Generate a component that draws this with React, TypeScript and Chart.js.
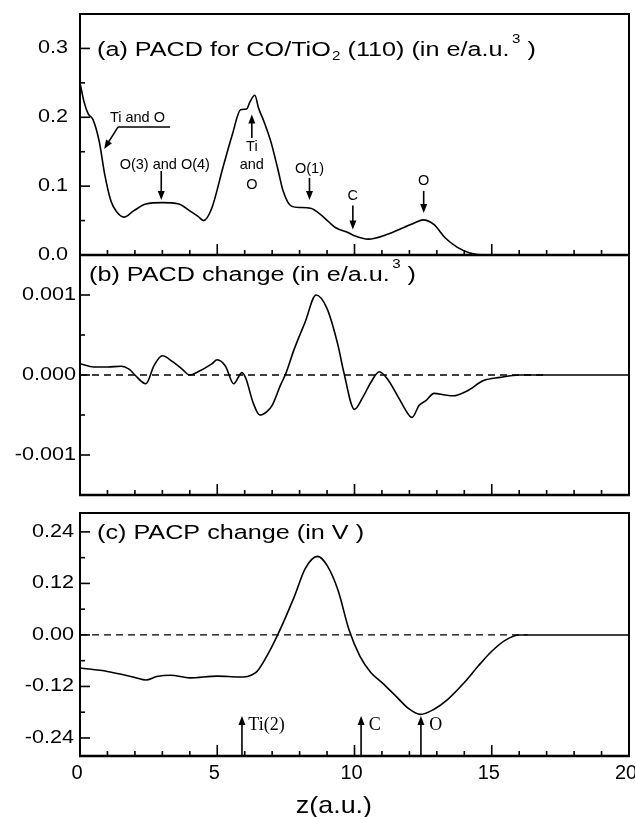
import React, { useEffect, useRef } from 'react';
import { Chart, registerables } from 'chart.js';

Chart.register(...registerables);

const SANS = '"Liberation Sans", Arial, Helvetica, sans-serif';
const SERIF = '"Liberation Serif", "Times New Roman", serif';

// ---------- shared x axis ----------
const X_TICKS = [0, 5, 10, 15, 20];
const X_LABELS = ['0', '5', '10', '15', '20'];
const X_MINOR = [1, 2, 3, 4, 6, 7, 8, 9, 11, 12, 13, 14, 16, 17, 18, 19];
const X_TITLE = 'z(a.u.)';

// ---------- panel (a): PACD ----------
const Z_A = [0, 0.15, 0.3, 0.47, 0.7, 0.9, 1.13, 1.35, 1.6, 1.95, 2.4, 3.0, 3.6, 4.0, 4.3, 4.5, 4.8, 5.2, 5.55, 5.85, 6.07, 6.2, 6.37, 6.5, 6.7, 6.95, 7.2, 7.4, 7.7, 8.0, 8.4, 8.9, 9.3, 9.8, 10.0, 10.5, 11.2, 11.8, 12.2, 12.5, 12.9, 13.3, 13.75, 14.2, 14.8, 16, 20];
const V_A = [0.25, 0.222, 0.205, 0.197, 0.165, 0.117, 0.078, 0.062, 0.055, 0.064, 0.074, 0.076, 0.074, 0.064, 0.056, 0.05, 0.068, 0.126, 0.175, 0.211, 0.212, 0.223, 0.232, 0.214, 0.194, 0.165, 0.126, 0.093, 0.071, 0.069, 0.068, 0.054, 0.04, 0.032, 0.028, 0.023, 0.03, 0.04, 0.047, 0.051, 0.044, 0.025, 0.011, 0.003, 0.0, 0.0, 0.0];
const Y_TICKS_A = [0, 0.1, 0.2, 0.3];
const Y_LABELS_A = ['0.0', '0.1', '0.2', '0.3'];
const Y_MINOR_A = [0.05, 0.15, 0.25];
const TITLE_A: [string, string][] = [['(a) PACD for CO/TiO', ''], ['2', 'sub'], [' (110) (in e/a.u.', ''], ['3', 'sup'], [' )', '']];
const LABELS_A = [
  { t: 'Ti and O', z: 1.09, v: 0.193, align: 'left' },
  { t: 'O(3) and O(4)', z: 3.09, v: 0.125, align: 'center' },
  { t: 'Ti', z: 6.26, v: 0.151, align: 'center' },
  { t: 'and', z: 6.26, v: 0.125, align: 'center' },
  { t: 'O', z: 6.26, v: 0.096, align: 'center' },
  { t: 'O(1)', z: 8.36, v: 0.119, align: 'center' },
  { t: 'C', z: 9.94, v: 0.08, align: 'center' },
  { t: 'O', z: 12.52, v: 0.101, align: 'center' },
];
const ARROWS_A = [
  { z1: 1.39, v1: 0.186, z2: 0.88, v2: 0.154 },
  { z1: 2.96, v1: 0.122, z2: 2.96, v2: 0.08 },
  { z1: 6.26, v1: 0.17, z2: 6.26, v2: 0.204 },
  { z1: 8.36, v1: 0.112, z2: 8.36, v2: 0.08 },
  { z1: 9.94, v1: 0.072, z2: 9.94, v2: 0.037 },
  { z1: 12.52, v1: 0.093, z2: 12.52, v2: 0.061 },
];
const LINES_A = [{ z1: 1.39, v1: 0.186, z2: 3.28, v2: 0.186 }];

// ---------- panel (b): PACD change ----------
const Z_B = [0, 0.5, 1.0, 1.5, 1.8, 2.0, 2.4, 2.7, 3.0, 3.4, 3.7, 4.0, 4.3, 4.8, 5.0, 5.3, 5.6, 5.9, 6.05, 6.3, 6.55, 6.8, 7.0, 7.3, 7.5, 7.8, 8.2, 8.6, 9.0, 9.4, 9.6, 10.0, 10.3, 10.6, 10.9, 11.2, 11.6, 12.0, 12.1, 12.35, 12.6, 12.9, 13.3, 13.6, 14.1, 14.7, 15.3, 16.0, 20];
const V_B = [0.14e-3, 0.1e-3, 0.1e-3, 0.11e-3, 0.07e-3, 0.0, -0.11e-3, 0.12e-3, 0.24e-3, 0.16e-3, 0.08e-3, 0.0, 0.04e-3, 0.14e-3, 0.19e-3, 0.11e-3, -0.11e-3, 0.03e-3, -0.05e-3, -0.34e-3, -0.5e-3, -0.46e-3, -0.38e-3, -0.13e-3, 0.02e-3, 0.32e-3, 0.66e-3, 1.0e-3, 0.83e-3, 0.37e-3, 0.05e-3, -0.43e-3, -0.28e-3, -0.09e-3, 0.04e-3, -0.05e-3, -0.28e-3, -0.51e-3, -0.53e-3, -0.38e-3, -0.32e-3, -0.23e-3, -0.25e-3, -0.26e-3, -0.2e-3, -0.07e-3, -0.03e-3, 0.0, 0.0];
const ZERO_B = [0, 17];
const Y_TICKS_B = [-0.001, 0, 0.001];
const Y_LABELS_B = ['-0.001', '0.000', '0.001'];
const Y_MINOR_B = [-0.0005, 0.0005];
const TITLE_B: [string, string][] = [['(b) PACD change (in e/a.u.', ''], ['3', 'sup'], [' )', '']];

// ---------- panel (c): PACP change ----------
const Z_C = [0, 1.0, 2.0, 2.4, 2.8, 3.3, 4.0, 5.0, 5.8, 6.4, 6.8, 7.2, 7.8, 8.2, 8.65, 9.0, 9.4, 9.8, 10.2, 10.6, 11.0, 11.5, 12.0, 12.4, 12.9, 13.4, 14.0, 14.5, 15.0, 15.5, 16.0, 16.5, 20];
const V_C = [-0.077, -0.085, -0.099, -0.105, -0.097, -0.094, -0.1, -0.096, -0.098, -0.088, -0.05, 0.0, 0.088, 0.154, 0.183, 0.162, 0.104, 0.012, -0.05, -0.088, -0.111, -0.142, -0.173, -0.185, -0.173, -0.15, -0.111, -0.073, -0.038, -0.012, 0.0, 0.0, 0.0];
const ZERO_C = [0, 16.3];
const Y_TICKS_C = [-0.24, -0.12, 0, 0.12, 0.24];
const Y_LABELS_C = ['-0.24', '-0.12', '0.00', '0.12', '0.24'];
const Y_MINOR_C = [-0.18, -0.06, 0.06, 0.18];
const TITLE_C: [string, string][] = [['(c) PACP change (in V )', '']];
const LABELS_C = [
  { t: 'Ti(2)', z: 6.13, v: -0.221, align: 'left' },
  { t: 'C', z: 10.52, v: -0.221, align: 'left' },
  { t: 'O', z: 12.72, v: -0.221, align: 'left' },
];
const ARROW_Z_C = [5.9, 10.24, 12.42];
const ARROW_TIP_C = -0.189;

type Seg = { z1: number; v1: number; z2: number; v2: number };
type Lab = { t: string; z: number; v: number; align: string };

interface Spec {
  top: number;
  bottom: number;
  yMin: number;
  yMax: number;
  yTicks: number[];
  yLabels: string[];
  yMinor: number[];
  labelPad: number;
  z: number[];
  v: number[];
  zero?: number[];
  showX: boolean;
  title: [string, string][];
  titleDx: number;
  titleV: number;
  labels: Lab[];
  labelFont: string;
  arrows: Seg[];
  lines: Seg[];
}

const TITLE_SIZE = 20;
const TITLE_STRETCH = 1.26;
const YLAB_SIZE = 18;
const YLAB_STRETCH = 1.2;

function drawArrow(ctx: CanvasRenderingContext2D, x1: number, y1: number, x2: number, y2: number, head = 9, half = 3.5, lw = 1.6) {
  const ang = Math.atan2(y2 - y1, x2 - x1);
  const c = Math.cos(ang), s = Math.sin(ang);
  ctx.lineWidth = lw;
  ctx.beginPath();
  ctx.moveTo(x1, y1);
  ctx.lineTo(x2 - c * head * 0.7, y2 - s * head * 0.7);
  ctx.stroke();
  ctx.beginPath();
  ctx.moveTo(x2, y2);
  ctx.lineTo(x2 - head * c + half * s, y2 - head * s - half * c);
  ctx.lineTo(x2 - head * c - half * s, y2 - head * s + half * c);
  ctx.closePath();
  ctx.fill();
}

function drawRich(ctx: CanvasRenderingContext2D, x: number, yMid: number, parts: [string, string][], size: number, stretch: number) {
  ctx.save();
  ctx.translate(x, yMid + size * 0.36);
  ctx.scale(stretch, 1);
  let cx = 0;
  ctx.textAlign = 'left';
  ctx.textBaseline = 'alphabetic';
  for (const [t, kind] of parts) {
    if (kind === 'sub') {
      ctx.font = `${Math.round(size * 0.62)}px ${SANS}`;
      ctx.fillText(t, cx + 1, size * 0.22);
      cx += ctx.measureText(t).width + 1;
    } else if (kind === 'sup') {
      ctx.font = `${Math.round(size * 0.62)}px ${SANS}`;
      ctx.fillText(t, cx + 2, -size * 0.62);
      cx += ctx.measureText(t).width + 2;
    } else {
      ctx.font = `${size}px ${SANS}`;
      ctx.fillText(t, cx, 0);
      cx += ctx.measureText(t).width;
    }
  }
  ctx.restore();
}

function decorPlugin(p: Spec) {
  return {
    id: 'decor',
    afterDatasetsDraw(chart: any) {
      const { ctx, chartArea: a, scales } = chart;
      const X = (z: number) => scales.x.getPixelForValue(z);
      const Y = (v: number) => scales.y.getPixelForValue(v);
      ctx.save();
      ctx.strokeStyle = '#000';
      ctx.fillStyle = '#000';
      ctx.lineCap = 'butt';
      // frame
      ctx.lineWidth = 2;
      ctx.strokeRect(a.left, a.top, a.right - a.left, a.bottom - a.top);
      ctx.lineWidth = 2.6;
      ctx.beginPath();
      ctx.moveTo(a.left - 1, a.bottom);
      ctx.lineTo(a.right + 1, a.bottom);
      ctx.stroke();
      // x ticks (inward, from bottom)
      ctx.lineWidth = 1.6;
      for (const z of X_TICKS) {
        if (z <= 0 || z >= 20) continue;
        ctx.beginPath();
        ctx.moveTo(X(z), a.bottom);
        ctx.lineTo(X(z), a.bottom - 11);
        ctx.stroke();
      }
      for (const z of X_MINOR) {
        ctx.beginPath();
        ctx.moveTo(X(z), a.bottom);
        ctx.lineTo(X(z), a.bottom - 5);
        ctx.stroke();
      }
      // y ticks (inward, from left)
      for (const v of p.yTicks) {
        if (v <= p.yMin || v >= p.yMax || Math.abs(Y(v) - a.bottom) < 2) continue;
        ctx.beginPath();
        ctx.moveTo(a.left, Y(v));
        ctx.lineTo(a.left + 10, Y(v));
        ctx.stroke();
      }
      for (const v of p.yMinor) {
        ctx.beginPath();
        ctx.moveTo(a.left, Y(v));
        ctx.lineTo(a.left + 5, Y(v));
        ctx.stroke();
      }
      // y tick labels (from the scale's own ticks)
      ctx.font = `${YLAB_SIZE}px ${SANS}`;
      ctx.textAlign = 'right';
      ctx.textBaseline = 'middle';
      scales.y.ticks.forEach((tk: any, i: number) => {
        ctx.save();
        ctx.translate(a.left - p.labelPad, Y(tk.value));
        ctx.scale(YLAB_STRETCH, 1);
        ctx.fillText(p.yLabels[i], 0, 0);
        ctx.restore();
      });
      // title
      drawRich(ctx, a.left + p.titleDx, Y(p.titleV), p.title, TITLE_SIZE, TITLE_STRETCH);
      // annotation lines and arrows
      ctx.lineWidth = 1.6;
      for (const l of p.lines) {
        ctx.beginPath();
        ctx.moveTo(X(l.z1), Y(l.v1));
        ctx.lineTo(X(l.z2), Y(l.v2));
        ctx.stroke();
      }
      for (const ar of p.arrows) {
        drawArrow(ctx, X(ar.z1), Y(ar.v1), X(ar.z2), Y(ar.v2));
      }
      // annotation labels
      ctx.font = p.labelFont;
      ctx.textBaseline = 'alphabetic';
      for (const l of p.labels) {
        ctx.textAlign = l.align as CanvasTextAlign;
        ctx.fillText(l.t, X(l.z), Y(l.v));
      }
      // x title
      if (p.showX) {
        ctx.save();
        ctx.font = `24px ${SANS}`;
        ctx.textAlign = 'center';
        ctx.textBaseline = 'middle';
        ctx.translate(X(9.25), a.bottom + 50);
        ctx.scale(1.12, 1);
        ctx.fillText(X_TITLE, 0, 0);
        ctx.restore();
      }
      ctx.restore();
    },
  };
}

function makeConfig(p: Spec): any {
  const datasets: any[] = [];
  if (p.zero) {
    datasets.push({
      data: [{ x: p.zero[0], y: 0 }, { x: p.zero[1], y: 0 }],
      borderColor: '#000',
      borderWidth: 1.3,
      borderDash: [7, 5],
      pointRadius: 0,
      fill: false,
    });
  }
  datasets.push({
    data: p.z.map((x, i) => ({ x, y: p.v[i] })),
    borderColor: '#000',
    borderWidth: 1.6,
    pointRadius: 0,
    fill: false,
    cubicInterpolationMode: 'monotone',
  });
  return {
    type: 'line',
    data: { datasets },
    options: {
      responsive: false,
      devicePixelRatio: 1,
      animation: false,
      events: [],
      layout: {
        autoPadding: false,
        padding: { left: 0, right: 6, top: p.top, bottom: p.showX ? 0 : 817 - p.bottom },
      },
      plugins: { legend: { display: false }, tooltip: { enabled: false }, title: { display: false } },
      scales: {
        x: {
          type: 'linear',
          min: 0,
          max: 20,
          display: p.showX,
          afterBuildTicks: (s: any) => {
            s.ticks = X_TICKS.map((value) => ({ value }));
          },
          afterFit: (s: any) => {
            s.height = p.showX ? 817 - p.bottom : 0;
            s.paddingLeft = 0;
            s.paddingRight = 0;
          },
          ticks: {
            display: p.showX,
            autoSkip: false,
            maxRotation: 0,
            padding: 5,
            labelOffset: -3,
            color: '#000',
            font: { family: SANS, size: 20 },
            callback: (_v: any, i: number) => X_LABELS[i],
          },
          grid: { display: false, drawTicks: false },
          border: { display: false },
        },
        y: {
          type: 'linear',
          min: p.yMin,
          max: p.yMax,
          afterBuildTicks: (s: any) => {
            s.ticks = p.yTicks.map((value) => ({ value }));
          },
          afterFit: (s: any) => {
            s.width = 80;
            s.paddingTop = 0;
            s.paddingBottom = 0;
          },
          ticks: { display: false },
          grid: { display: false, drawTicks: false },
          border: { display: false },
        },
      },
    },
    plugins: [decorPlugin(p)],
  };
}

const SPEC_A: Spec = {
  top: 14, bottom: 255, yMin: 0, yMax: 0.35,
  yTicks: Y_TICKS_A, yLabels: Y_LABELS_A, yMinor: Y_MINOR_A, labelPad: 12,
  z: Z_A, v: V_A, showX: false,
  title: TITLE_A, titleDx: 17, titleV: 0.3,
  labels: LABELS_A as Lab[], labelFont: `14.5px ${SANS}`,
  arrows: ARROWS_A, lines: LINES_A,
};

const SPEC_B: Spec = {
  top: 255, bottom: 495, yMin: -0.0015, yMax: 0.0015,
  yTicks: Y_TICKS_B, yLabels: Y_LABELS_B, yMinor: Y_MINOR_B, labelPad: 4,
  z: Z_B, v: V_B, zero: ZERO_B, showX: false,
  title: TITLE_B, titleDx: 9, titleV: 0.00127,
  labels: [], labelFont: `14.5px ${SANS}`,
  arrows: [], lines: [],
};

const SPEC_C: Spec = {
  top: 513, bottom: 756, yMin: -0.282, yMax: 0.284,
  yTicks: Y_TICKS_C, yLabels: Y_LABELS_C, yMinor: Y_MINOR_C, labelPad: 6,
  z: Z_C, v: V_C, zero: ZERO_C, showX: true,
  title: TITLE_C, titleDx: 17, titleV: 0.24,
  labels: LABELS_C as Lab[], labelFont: `18px ${SERIF}`,
  arrows: ARROW_Z_C.map((z) => ({ z1: z, v1: -0.282, z2: z, v2: ARROW_TIP_C })),
  lines: [],
};

function Panel({ spec }: { spec: Spec }) {
  const ref = useRef<HTMLCanvasElement>(null);
  useEffect(() => {
    if (!ref.current) return;
    const chart = new Chart(ref.current, makeConfig(spec));
    return () => chart.destroy();
  }, [spec]);
  return (
    <canvas
      ref={ref}
      width={635}
      height={817}
      style={{ position: 'absolute', left: 0, top: 0, width: 635, height: 817 }}
    />
  );
}

export default function App() {
  return (
    <div style={{ position: 'absolute', left: 0, top: 0, width: 635, height: 817, background: '#fff' }}>
      <Panel spec={SPEC_A} />
      <Panel spec={SPEC_B} />
      <Panel spec={SPEC_C} />
    </div>
  );
}
